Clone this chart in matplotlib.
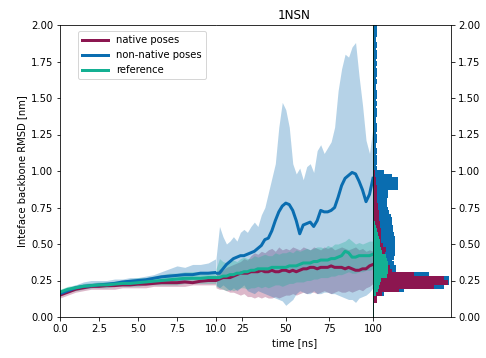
import numpy as np
import matplotlib
matplotlib.use("Agg")
import matplotlib.pyplot as plt

# ---------------- data ----------------
t_early = [0.0, 0.5, 1.0, 1.5, 2.0, 2.5, 3.0, 3.5, 4.0, 4.5, 5.0, 5.5, 6.0, 6.5,
           7.0, 7.5, 8.0, 8.5, 9.0, 9.5, 10.0]
t_late = [10, 12, 14, 16, 18, 20, 22, 24, 26, 28, 30, 32, 34, 36, 38, 40, 42, 44,
          46, 48, 50, 52, 54, 56, 58, 60, 62, 64, 66, 68, 70, 72, 74, 76, 78, 80,
          82, 84, 86, 88, 90, 92, 94, 96, 98, 100]

native_early = [.15, .17, .19, .20, .21, .21, .215, .215, .22, .22, .225, .225, .23,
                .235, .235, .235, .24, .235, .245, .25, .25]
native_early_hi = [.17, .19, .21, .22, .23, .23, .235, .24, .24, .24, .245, .25, .25,
                   .255, .26, .26, .265, .27, .27, .28, .28]
native_early_lo = [.13, .15, .17, .18, .19, .19, .19, .19, .20, .20, .20, .20, .21,
                   .21, .21, .21, .21, .22, .22, .22, .22]

nonnat_early = [.16, .18, .20, .21, .215, .22, .225, .23, .24, .245, .25, .255, .265,
                .275, .28, .285, .29, .29, .30, .30, .305]
nonnat_early_hi = [.18, .20, .22, .24, .25, .25, .25, .26, .26, .27, .27, .28, .29,
                   .31, .33, .35, .34, .36, .36, .37, .40]
nonnat_early_lo = [.15, .17, .19, .20, .20, .21, .21, .22, .22, .22, .23, .23, .24,
                   .25, .25, .25, .25, .26, .26, .26, .24]

ref_early = [.17, .19, .20, .21, .215, .22, .22, .225, .23, .23, .235, .24, .245,
             .25, .255, .26, .265, .265, .265, .27, .27]
ref_early_hi = [.19, .21, .22, .23, .235, .24, .24, .245, .25, .26, .27, .27, .28,
                .29, .30, .30, .31, .31, .31, .31, .32]
ref_early_lo = [.15, .17, .18, .19, .20, .20, .20, .21, .21, .21, .21, .22, .22,
                .22, .22, .22, .23, .23, .23, .23, .23]

native_late = [.25, .26, .27, .27, .27, .28, .29, .30, .30, .30, .31, .31, .31, .32,
               .31, .31, .32, .31, .31, .32, .32, .31, .32, .31, .32, .33, .33, .34,
               .34, .33, .34, .34, .34, .35, .34, .34, .34, .33, .34, .33, .32, .32,
               .33, .33, .35, .36]
native_late_hi = [.30, .33, .32, .34, .35, .36, .37, .38, .40, .39, .42, .44, .43, .45,
                  .44, .46, .47, .45, .48, .46, .47, .46, .48, .47, .46, .48, .47, .46,
                  .48, .47, .46, .48, .47, .48, .46, .47, .48, .47, .46, .47, .48, .46,
                  .47, .45, .46, .45]
native_late_lo = [.20, .19, .19, .18, .17, .17, .16, .15, .16, .14, .14, .13, .14, .13,
                  .14, .13, .13, .14, .13, .14, .15, .15, .16, .15, .16, .17, .16, .17,
                  .17, .16, .17, .18, .17, .16, .17, .18, .17, .17, .18, .17, .18, .19,
                  .18, .20, .21, .23]

nonnat_late = [.30, .30, .33, .36, .38, .40, .41, .42, .42, .43, .44, .45, .47, .49,
               .53, .54, .59, .66, .72, .76, .78, .77, .73, .66, .57, .63, .64, .65,
               .62, .66, .73, .72, .72, .73, .75, .82, .90, .95, .97, .99, .98, .93,
               .87, .79, .84, .95]
nonnat_late_hi = [.40, .62, .55, .50, .52, .55, .52, .58, .60, .58, .62, .65, .62, .70,
                  .75, .85, .95, 1.05, 1.30, 1.47, 1.42, 1.30, 1.05, .98, 1.02, .94,
                  1.03, 1.05, .99, 1.14, 1.18, 1.12, 1.16, 1.20, 1.30, 1.55, 1.70,
                  1.80, 1.78, 1.85, 1.88, 1.65, 1.45, 1.21, 1.12, 1.30]
nonnat_late_lo = [.22, .20, .22, .20, .18, .20, .18, .20, .22, .18, .17, .16, .18, .17,
                  .16, .15, .14, .13, .12, .11, .08, .10, .12, .16, .18, .17, .16, .16,
                  .18, .16, .16, .17, .17, .16, .16, .15, .14, .13, .12, .12, .10, .13,
                  .14, .15, .17, .20]

ref_late = [.27, .27, .28, .28, .29, .29, .30, .30, .31, .31, .32, .32, .33, .33, .33,
            .33, .34, .34, .34, .34, .34, .35, .35, .35, .36, .37, .37, .37, .38, .38,
            .39, .39, .39, .40, .40, .41, .42, .45, .44, .41, .41, .42, .42, .42, .42,
            .43]
ref_late_hi = [.33, .40, .38, .37, .38, .39, .38, .40, .41, .40, .40, .42, .41, .42,
               .43, .42, .42, .44, .43, .44, .44, .45, .44, .46, .45, .46, .47, .46,
               .47, .48, .48, .47, .49, .48, .50, .50, .51, .52, .54, .52, .50, .51,
               .50, .51, .52, .52]
ref_late_lo = [.21, .20, .19, .18, .19, .18, .19, .20, .20, .19, .20, .20, .21, .20,
               .21, .20, .21, .22, .22, .21, .22, .23, .23, .24, .24, .24, .25, .25,
               .26, .26, .27, .27, .27, .28, .28, .29, .29, .30, .31, .30, .30, .31,
               .31, .32, .32, .33]

# histogram (bins of 0.025 nm from 0 to 2 nm)
hist_edges = np.linspace(0.0, 2.0, 81)
hist_nonnat = [0, 0, 0, 0,
               2, 3, 10, 30, 70, 75, 75, 55,
               22, 22, 20, 18, 20, 21, 21, 21,
               21, 21, 20, 19, 19, 18, 18, 17,
               15, 14, 13, 13, 13, 14, 14, 24,
               24, 24, 18, 10,
               3, 2, 3, 3, 2, 3, 2, 2, 3, 3, 2, 3, 3, 2, 2, 3, 3, 2, 3, 2,
               3, 3, 2, 2, 3, 2, 3, 3, 2, 3, 2, 3, 3, 2, 3, 2, 2, 3, 3, 3]
hist_native = [0, 0, 0, 0,
               3, 3, 8, 25, 60, 74, 70, 40,
               18, 16, 14, 12, 9, 11, 12, 9,
               7, 7, 7, 7, 6, 6, 5, 5,
               5, 4, 4, 3, 3, 3, 3, 3,
               2, 2, 1, 1] + [0] * 40
hist_ref = [0, 0, 0, 0,
            0, 0, 2, 4, 5, 6, 7, 13,
            14, 14, 14, 13, 12, 8, 7, 6,
            6, 5, 4, 3, 2, 1, 0, 0] + [0] * 52

labels = ["native poses", "non-native poses", "reference"]
colors = ["#8C1650", "#0A6DB0", "#14B093"]

# ---------------- figure ----------------
W, H = 486, 358
fig = plt.figure(figsize=(W / 72, H / 72), dpi=72)
ax1 = fig.add_axes([60 / W, 41 / H, 156 / W, 292 / H])
ax2 = fig.add_axes([216 / W, 41 / H, 157 / W, 292 / H], sharey=ax1)
ax3 = fig.add_axes([373 / W, 41 / H, 78 / W, 292 / H], sharey=ax1)

early = [(native_early, native_early_lo, native_early_hi),
         (nonnat_early, nonnat_early_lo, nonnat_early_hi),
         (ref_early, ref_early_lo, ref_early_hi)]
late = [(native_late, native_late_lo, native_late_hi),
        (nonnat_late, nonnat_late_lo, nonnat_late_hi),
        (ref_late, ref_late_lo, ref_late_hi)]

for ax, t, sets in [(ax1, t_early, early), (ax2, t_late, late)]:
    for (m, lo, hi), c in zip(sets, colors):
        ax.fill_between(t, lo, hi, color=c, alpha=0.3, lw=0)
    for (m, lo, hi), c, lab in zip(sets, colors, labels):
        ax.plot(t, m, color=c, lw=3, label=lab)

# histograms
order = [(hist_nonnat, colors[1]), (hist_native, colors[0]), (hist_ref, colors[2])]
for cnt, c in order:
    ax3.stairs(cnt, hist_edges, orientation="horizontal", fill=True,
               facecolor=c, edgecolor=c, linewidth=2)

ax1.set_ylim(0, 2.0)
ax1.set_yticks(np.arange(0, 2.01, 0.25))
ax1.set_xlim(0, 10)
ax1.set_xticks([0, 2.5, 5, 7.5, 10])
ax1.set_xticklabels(["0.0", "2.5", "5.0", "7.5", "10.0"])
ax1.spines["right"].set_visible(False)
ax1.set_ylabel("Inteface backbone RMSD [nm]")

ax2.set_xlim(10, 100)
ax2.set_xticks([25, 50, 75, 100])
ax2.set_xticklabels(["25", "50", "75", "100"])
ax2.spines["left"].set_visible(False)
ax2.spines["right"].set_visible(False)
ax2.tick_params(axis="y", left=False, labelleft=False)
ax2.set_xlabel("time [ns]")
ax2.set_title("1NSN", fontsize=12)

ax3.set_xlim(0, 78)
ax3.set_xticks([])
ax3.tick_params(axis="y", left=False, labelleft=False, right=True, labelright=True)
for s in ax3.spines.values():
    s.set_zorder(5)

ax1.legend(loc="upper left", bbox_to_anchor=(0.115, 0.979), borderaxespad=0,
           handlelength=2.6, fontsize=10)

fig.savefig("out.png", dpi=72)
